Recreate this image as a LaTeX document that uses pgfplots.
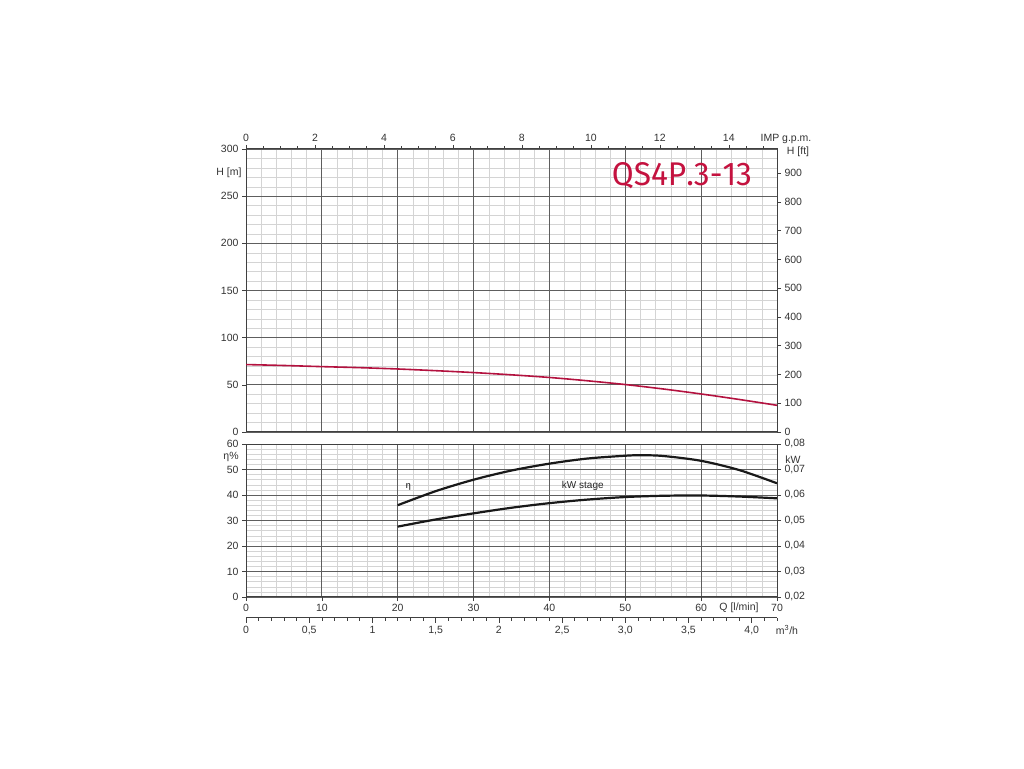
\documentclass[border=0pt]{standalone}
\usepackage{pgfplots}
\pgfplotsset{compat=1.18}
\usepackage{fontspec}
\setmainfont{Liberation Sans}
\newfontfamily\titlefont[Kerning=Off]{Fira Sans}
\definecolor{curvered}{HTML}{B3123F}
\definecolor{titlered}{HTML}{C4123F}
\definecolor{majgrid}{HTML}{5E5E5E}
\definecolor{mingrid}{HTML}{D4D4D4}
\pgfplotsset{
  base/.style={
    scale only axis, width=531pt, anchor=south west,
    /pgf/number format/assume math mode=true,
    tick label style={font=\fontsize{10.5}{12}\selectfont, text=black!80},
    axis line style={black!75, line width=1pt},
    tick style={black!75, line width=0.6pt},
    tick align=outside,
    major tick length=4pt, minor tick length=0pt,
  },
  mingrids/.style={
    grid=minor, minor grid style={mingrid, line width=0.45pt},
    xticklabels={}, yticklabels={}, tick style={draw=none},
  },
  majgrids/.style={
    grid=major, major grid style={majgrid, line width=0.8pt},
  }
}
\begin{document}
\begin{tikzpicture}
\useasboundingbox (0,0) rectangle (1024pt,768pt);
% ---------- top panel ----------
\begin{axis}[base, mingrids, at={(246pt,336pt)}, height=283pt,
  xmin=0, xmax=70, ymin=0, ymax=300,
  xtick={0,10,...,70}, minor x tick num=4,
  ytick={0,50,...,300}, minor y tick num=4,
]
\end{axis}
\begin{axis}[base, majgrids, at={(246pt,336pt)}, height=283pt,
  xmin=0, xmax=70, ymin=0, ymax=300,
  xtick={0,10,...,70}, xticklabels={},
  xtick style={draw=none},
  ytick={0,50,...,300}, ytick pos=left,
]
\addplot[curvered, line width=1.6pt, smooth] coordinates {
(0,71.5) (5,70.5) (10,69.3) (15,68.2) (20,66.8) (25,65) (30,63) (35,60.6)
(40,57.8) (45,54.3) (50,50.3) (55,45.6) (60,40.3) (65,34.5) (70,28.3)};
\end{axis}
\begin{axis}[base, at={(246pt,336pt)}, height=283pt,
  xmin=0, xmax=15.3981, ymin=0, ymax=984.25,
  axis x line*=top, axis y line*=right,
  xtick={0,2,...,14}, minor xtick={0.5,1,...,15}, minor tick length=2.5pt,
  ytick={0,100,...,900}, minor ytick={},
]
\end{axis}
\node[font=\fontsize{10.5}{12}\selectfont, text=black!80] at (786pt,629pt) {IMP g.p.m.};
\node[font=\fontsize{10.5}{12}\selectfont, text=black!80] at (798pt,616pt) {H [ft]};
\node[font=\fontsize{10.5}{12}\selectfont, text=black!80] at (229pt,595pt) {H [m]};
\node[text=titlered, anchor=base, inner sep=0pt] at (682pt,582pt) {\resizebox{140pt}{23pt}{\titlefont QS4P.3-13}};
% ---------- bottom panel ----------
\begin{axis}[base, mingrids, at={(246pt,171pt)}, height=153pt,
  xmin=0, xmax=70, ymin=0, ymax=60,
  xtick={0,10,...,70}, minor x tick num=4,
  ytick={0,10,...,60}, minor y tick num=4,
]
\end{axis}
\begin{axis}[base, majgrids, at={(246pt,171pt)}, height=153pt,
  xmin=0, xmax=70, ymin=0, ymax=60,
  xtick={0,10,...,70}, xtick pos=bottom,
  ytick={0,10,...,60}, ytick pos=left,
]
\addplot[black!90, line width=2.2pt, smooth] coordinates {
(20,36) (25,41.5) (30,46) (35,49.6) (40,52.3) (45,54.3) (50,55.4) (52,55.6)
(55,55.3) (60,53.4) (65,49.8) (70,44.6)};
\node[font=\fontsize{9}{10}\selectfont] at (axis cs:21.4,43.1) {η};
\node[font=\fontsize{10}{12}\selectfont, text=black!85] at (axis cs:44.4,43.5) {kW stage};
\end{axis}
\begin{axis}[base, at={(246pt,171pt)}, height=153pt,
  xmin=0, xmax=70, ymin=0.02, ymax=0.08,
  axis x line=none, axis y line*=right,
  scaled y ticks=false,
  ytick={0.02,0.03,...,0.08},
  yticklabels={{0,02},{0,03},{0,04},{0,05},{0,06},{0,07},{0,08}},
]
\addplot[black!90, line width=2.2pt, smooth] coordinates {
(20,0.0476) (25,0.0504) (30,0.0528) (35,0.0550) (40,0.0568) (45,0.0582)
(50,0.0592) (55,0.0597) (60,0.0598) (65,0.0594) (70,0.0587)};
\end{axis}
\node[font=\fontsize{10.5}{12}\selectfont, text=black!80] at (793pt,308pt) {kW};
\node[font=\fontsize{10.5}{12}\selectfont, text=black!80] at (231pt,311pt) {η\%};
\node[font=\fontsize{10.5}{12}\selectfont, text=black!80, fill=white, inner sep=1pt] at (739pt,160pt) {Q [l/min]};
% ---------- m3/h axis ----------
\begin{axis}[base, at={(246pt,150pt)}, height=10pt,
  xmin=0, xmax=4.2, ymin=0, ymax=1,
  axis x line*=bottom, axis y line=none,
  xtick={0,0.5,...,4.0},
  xticklabels={0,{0,5},1,{1,5},2,{2,5},{3,0},{3,5},{4,0}},
  minor xtick={0,0.1,...,4.2}, minor tick length=3pt, major tick length=5pt,
]
\end{axis}
\node[font=\fontsize{10.5}{12}\selectfont, text=black!80] at (787pt,138pt) {m\textsuperscript{3}/h};
\end{tikzpicture}
\end{document}
